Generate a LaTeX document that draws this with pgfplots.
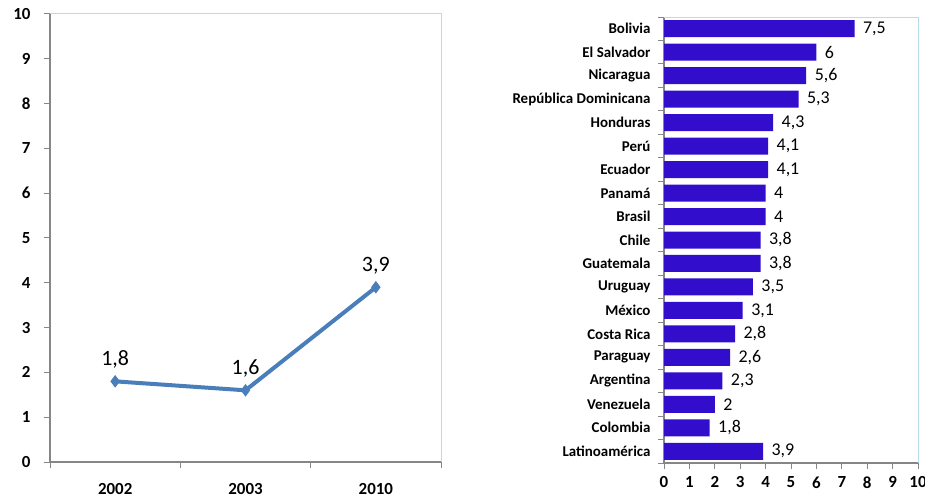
\documentclass[border=0pt]{standalone}
\usepackage{pgfplots}
\pgfplotsset{compat=1.18}
\usepackage{fontspec}
\setmainfont{Carlito}
\definecolor{linebl}{RGB}{74,126,187}
\definecolor{barbl}{RGB}{51,13,204}
\definecolor{axgray}{RGB}{134,134,134}
\definecolor{frcyan}{RGB}{183,221,232}
\pgfplotsset{
  /pgf/number format/assume math mode=true,
  /pgf/number format/use comma,
  excelbox/.style={
    scale only axis,
    axis x line*=bottom, axis y line*=left,
    axis line style={axgray, line width=1.5bp, -},
    tick align=outside, major tick length=6bp,
    after end axis/.code={
      \draw[frcyan, line width=1bp] (rel axis cs:0,1) -- (rel axis cs:1,1) -- (rel axis cs:1,0);
    },
  },
}
\begin{document}
\begin{tikzpicture}
\useasboundingbox (0,0) rectangle (925bp,499bp);
% linea: 2002, 2003, 2010
\begin{axis}[excelbox,
  at={(50bp,37bp)}, anchor=south west,
  width=391bp, height=448bp,
  xmin=-0.5, xmax=2.5, ymin=0, ymax=10,
  xtick={0,1,2}, xticklabels={2002,2003,2010},
  xtick style={draw=none},
  extra x ticks={-0.5,0.5,1.5,2.5}, extra x tick labels={},
  extra x tick style={xtick style={draw=axgray, line width=1bp}},
  ytick={0,...,10},
  ytick style={draw=axgray, line width=1bp},
  ticklabel style={font=\fontsize{17}{17}\bfseries\selectfont},
  xticklabel style={yshift=-12bp},
  yticklabel style={xshift=-10bp},
  nodes near coords,
  every node near coord/.append style={font=\fontsize{22}{22}\selectfont, anchor=south, yshift=9bp, black},
  clip=false,
]
\addplot[linebl, line width=4bp, mark=diamond*, mark size=5.5bp, mark options={fill=linebl, draw=linebl, line width=1bp}]
  coordinates {(0,1.8) (1,1.6) (2,3.9)};
\end{axis}
% barras por pais
\begin{axis}[excelbox,
  at={(664bp,36bp)}, anchor=south west,
  width=254bp, height=446bp,
  xbar, bar width=17bp,
  xmin=0, xmax=10, ymin=-0.5, ymax=18.5, y dir=reverse,
  xtick={0,...,10},
  xtick style={draw=axgray, line width=1bp},
  ytick={0,...,18},
  yticklabels={Bolivia,El Salvador,Nicaragua,República Dominicana,Honduras,Perú,Ecuador,Panamá,Brasil,Chile,Guatemala,Uruguay,México,Costa Rica,Paraguay,Argentina,Venezuela,Colombia,Latinoamérica},
  ytick style={draw=none},
  extra y ticks={-0.5,0.5,...,18.5}, extra y tick labels={},
  extra y tick style={ytick style={draw=axgray, line width=1bp}},
  xticklabel style={font=\fontsize{17}{17}\bfseries\selectfont, yshift=-4bp},
  yticklabel style={font=\fontsize{15}{15}\bfseries\selectfont, xshift=-4bp},
  nodes near coords,
  every node near coord/.append style={font=\fontsize{18}{18}\selectfont, anchor=west, xshift=5bp, black},
  clip=false,
]
\addplot[fill=barbl, draw=none] coordinates {
  (7.5,0) (6,1) (5.6,2) (5.3,3) (4.3,4) (4.1,5) (4.1,6) (4,7) (4,8) (3.8,9)
  (3.8,10) (3.5,11) (3.1,12) (2.8,13) (2.6,14) (2.3,15) (2,16) (1.8,17) (3.9,18)};
\end{axis}
\end{tikzpicture}
\end{document}
